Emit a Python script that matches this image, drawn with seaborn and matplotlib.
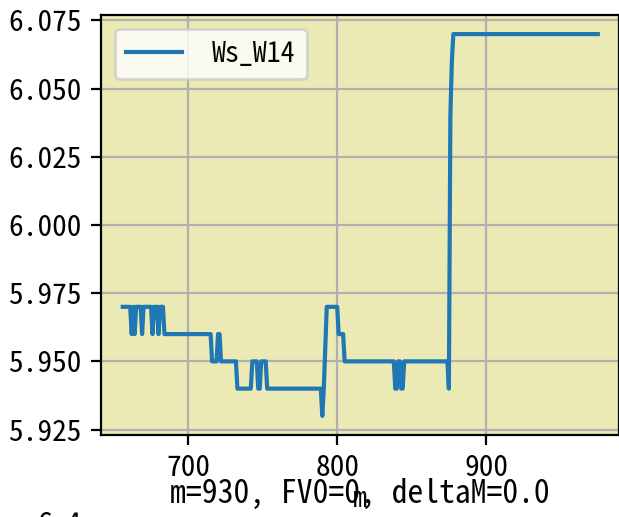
import matplotlib
matplotlib.use("Agg")
import matplotlib.pyplot as plt
import seaborn as sns
import pandas as pd

plt.rcParams['font.family'] = ['Noto Sans Mono CJK SC', 'Noto Sans CJK SC', 'DejaVu Sans']
plt.rcParams['axes.unicode_minus'] = False

# Ws_W14 readings against m (vertices of the step trace)
m_vals = [656, 661, 662, 663, 664, 665, 668, 669, 670, 675, 676, 677, 679, 680,
          681, 683, 684, 715, 716, 719, 720, 721, 722, 732, 733, 742, 743, 746,
          747, 748, 749, 752, 753, 789, 790, 791, 793, 800, 801, 804, 805, 838,
          839, 840, 841, 842, 843, 844, 845, 874, 875, 876, 877, 878, 975]
ws_w14 = [5.97, 5.97, 5.96, 5.97, 5.96, 5.97, 5.97, 5.96, 5.97, 5.97, 5.96, 5.97,
          5.97, 5.96, 5.97, 5.97, 5.96, 5.96, 5.95, 5.95, 5.96, 5.96, 5.95, 5.95,
          5.94, 5.94, 5.95, 5.95, 5.94, 5.94, 5.95, 5.95, 5.94, 5.94, 5.93, 5.94,
          5.97, 5.97, 5.96, 5.96, 5.95, 5.95, 5.94, 5.94, 5.95, 5.95, 5.94, 5.94,
          5.95, 5.95, 5.94, 6.04, 6.06, 6.07, 6.07]
series_name = "Ws_W14"
caption = "m=930, FV0=0, deltaM=0.0"
next_tick = "6.4"

df = pd.DataFrame({"m": m_vals, series_name: ws_w14})

fig = plt.figure(figsize=(3.095, 2.585), dpi=200)
ax = fig.add_axes([101 / 619, 82 / 517, 517.5 / 619, 420 / 517])
ax.set_facecolor("#ECEAB4")

sns.lineplot(data=df, x="m", y=series_name, ax=ax, color="#1f77b4",
             linewidth=1.5, label=series_name, estimator=None, sort=False)

ax.set_xlim(641.4, 988.9)
ax.set_xticks([700, 800, 900])
ax.grid(True, color="#b0b0b0", linewidth=0.8)
ax.set_axisbelow(True)
for s in ax.spines.values():
    s.set_color("black")
    s.set_linewidth(0.8)
ax.set_xlabel("m", fontsize=10, labelpad=1)
ax.set_ylabel("")
ax.tick_params(labelsize=10.6)

ax.legend(loc="upper left", fontsize=10, handletextpad=1.1, framealpha=0.8)

fig.text(360 / 619, 23 / 517, caption, ha="center", va="center", fontsize=11.4)
fig.text(82 / 619, 6 / 517, next_tick, ha="right", va="top", fontsize=10.6)

fig.savefig("out.png", dpi=200)
